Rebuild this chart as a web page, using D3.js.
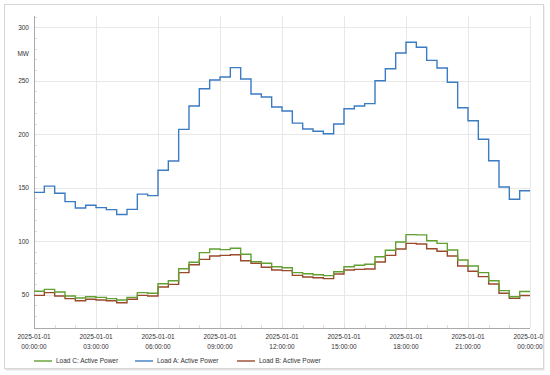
<!DOCTYPE html>
<html>
<head>
<meta charset="utf-8">
<script src="https://cdn.jsdelivr.net/npm/d3@7"></script>
<style>
  body { margin: 0; background: #fff; }
  text { font-family: "Liberation Sans", Arial, sans-serif; }
</style>
</head>
<body>
<div id="vis"></div>
<script>
// half-hour readings, 00:00 .. 23:30
const loadA = [145.7, 151.5, 144.8, 137, 131, 133.6, 131.4, 129.5, 125, 129.8, 144, 142.6,
    166.3, 175, 204.6, 226.4, 242.6, 250.7, 253.5, 262.3, 251.7, 237.6, 234.8, 225.5,
    221.7, 210.4, 204.9, 202.8, 200.5, 209.6, 223.9, 226.4, 228.6, 250, 261.3, 276,
    286, 281.3, 269.1, 262, 248.6, 224.8, 212.7, 195.3, 175.3, 150.7, 139.2, 147.2];
const loadB = [49.4, 51.9, 48.8, 46.3, 44.4, 45.7, 45, 44.4, 42.5, 45.7, 49.4, 48.8,
    57.2, 59.7, 70.6, 78, 83, 86.2, 86.8, 87.4, 81.8, 79.4, 75.6, 73.1,
    72.5, 68.1, 66.6, 65.9, 65, 69.3, 73.1, 73.7, 74, 80.6, 86.8, 92.7,
    98, 97.4, 93, 90.6, 86.2, 76.8, 71.9, 66.9, 60, 51.3, 46.6, 49.3];
const loadC = [53.2, 55, 52.5, 48.8, 46.9, 48.1, 47.5, 46.3, 45, 47.5, 51.9, 51.3,
    60.3, 63.1, 74.3, 80.3, 89.3, 92.7, 92.1, 93.4, 87.8, 80.9, 79.4, 76.2,
    75.2, 70.6, 69.6, 68.7, 67.8, 71.5, 76.2, 77.5, 78.4, 85.5, 91.5, 99.3,
    106.2, 105.9, 100.5, 98, 91.8, 82.4, 76.8, 70.6, 63.1, 53.8, 48.1, 53];

const seriesNames = ["Load C: Active Power", "Load A: Active Power", "Load B: Active Power"];
const seriesColors = ["#62a032", "#3b7bc2", "#9a4a2c"];
const yTicks = [50, 100, 150, 200, 250, 300];
const xTickHours = [0, 3, 6, 9, 12, 15, 18, 21, 24];

const svg = d3.select("#vis")
    .append("svg")
    .attr("width", 550)
    .attr("height", 375);

const margin = {left: 34, right: 530, top: 16, bottom: 328};

// frame
svg.append("rect")
    .attr("x", 5.5).attr("y", 6.5)
    .attr("width", 539).attr("height", 364)
    .attr("fill", "#e4e4e4");
svg.append("rect")
    .attr("x", 4.5).attr("y", 4.5)
    .attr("width", 539).attr("height", 364)
    .attr("fill", "#fff")
    .attr("stroke", "#d6d6d6");

svg.append("clipPath").attr("id", "frameClip")
    .append("rect").attr("x", 5).attr("y", 5).attr("width", 538).attr("height", 363);

const t0 = new Date(2025, 0, 1, 0, 0, 0);
const hour = h => new Date(t0.getTime() + h * 3600 * 1000);

const x = d3.scaleTime()
    .domain([hour(0), hour(24)])
    .range([margin.left, margin.right]);

const y = d3.scaleLinear()
    .domain([300 - (328 - 27.3) / 1.0696, 300 + (27.3 - 16) / 1.0696])
    .range([margin.bottom, margin.top]);

// grid
const grid = svg.append("g");
grid.selectAll(".hg").data(yTicks).enter().append("line")
    .attr("x1", margin.left).attr("x2", margin.right)
    .attr("y1", d => Math.round(y(d)) + 0.5).attr("y2", d => Math.round(y(d)) + 0.5)
    .attr("stroke", "#e8e8e8");
grid.selectAll(".vg").data(xTickHours.slice(1)).enter().append("line")
    .attr("x1", d => Math.round(x(hour(d))) + 0.5).attr("x2", d => Math.round(x(hour(d))) + 0.5)
    .attr("y1", margin.top).attr("y2", margin.bottom)
    .attr("stroke", "#e8e8e8");

// minor ticks
grid.selectAll(".mx").data(d3.range(1, 24)).enter().append("line")
    .attr("x1", d => Math.round(x(hour(d))) + 0.5).attr("x2", d => Math.round(x(hour(d))) + 0.5)
    .attr("y1", margin.bottom - 3).attr("y2", margin.bottom)
    .attr("stroke", "#ddd");
grid.selectAll(".my").data(d3.range(30, 311, 10)).enter().append("line")
    .attr("x1", margin.left).attr("x2", margin.left + 3)
    .attr("y1", d => Math.round(y(d)) + 0.5).attr("y2", d => Math.round(y(d)) + 0.5)
    .attr("stroke", "#ddd");

// axes lines
svg.append("line")
    .attr("x1", margin.left + 0.5).attr("x2", margin.left + 0.5)
    .attr("y1", margin.top).attr("y2", margin.bottom)
    .attr("stroke", "#aaa");
svg.append("line")
    .attr("x1", margin.left).attr("x2", margin.right)
    .attr("y1", margin.bottom + 0.5).attr("y2", margin.bottom + 0.5)
    .attr("stroke", "#aaa");

// y labels
svg.selectAll(".yl").data(yTicks).enter().append("text")
    .attr("x", 29).attr("y", d => y(d) + 2.3)
    .attr("text-anchor", "end")
    .attr("font-size", 6.5)
    .attr("fill", "#333")
    .text(d => d);
svg.append("text")
    .attr("x", 29).attr("y", y(275) + 2.3)
    .attr("text-anchor", "end")
    .attr("font-size", 6.5)
    .attr("fill", "#333")
    .text("MW");

// x labels
const fmtDate = d3.timeFormat("%Y-%m-%d");
const fmtTime = d3.timeFormat("%H:%M:%S");
const xl = svg.append("g").attr("clip-path", "url(#frameClip)");
xl.selectAll(".xl1").data(xTickHours).enter().append("text")
    .attr("x", d => x(hour(d))).attr("y", 339)
    .attr("text-anchor", "middle")
    .attr("font-size", 6.5)
    .attr("fill", "#333")
    .text(d => fmtDate(hour(d)));
xl.selectAll(".xl2").data(xTickHours).enter().append("text")
    .attr("x", d => x(hour(d))).attr("y", 348.5)
    .attr("text-anchor", "middle")
    .attr("font-size", 6.5)
    .attr("fill", "#333")
    .text(d => fmtTime(hour(d)));

// series (last value held to the end of the day)
const toPoints = arr => arr.map((v, i) => [hour(i / 2), v]).concat([[hour(24), arr[arr.length - 1]]]);
const line = d3.line()
    .x(d => x(d[0]))
    .y(d => y(d[1]))
    .curve(d3.curveStepAfter);

const drawOrder = [[loadA, 1], [loadB, 2], [loadC, 0]];
drawOrder.forEach(([arr, ci]) => {
    svg.append("path")
        .datum(toPoints(arr))
        .attr("d", line)
        .attr("fill", "none")
        .attr("stroke", seriesColors[ci])
        .attr("stroke-width", 1.4);
});

// legend
const legX = [34, 135, 237];
const leg = svg.selectAll(".leg").data(seriesNames).enter().append("g")
    .attr("transform", (d, i) => `translate(${legX[i]},361)`);
leg.append("line")
    .attr("x1", 0).attr("x2", 18)
    .attr("stroke", (d, i) => seriesColors[i])
    .attr("stroke-width", 1.4);
leg.append("text")
    .attr("x", 22).attr("y", 2.3)
    .attr("font-size", 6.5)
    .attr("fill", "#333")
    .text(d => d);
</script>
</body>
</html>
